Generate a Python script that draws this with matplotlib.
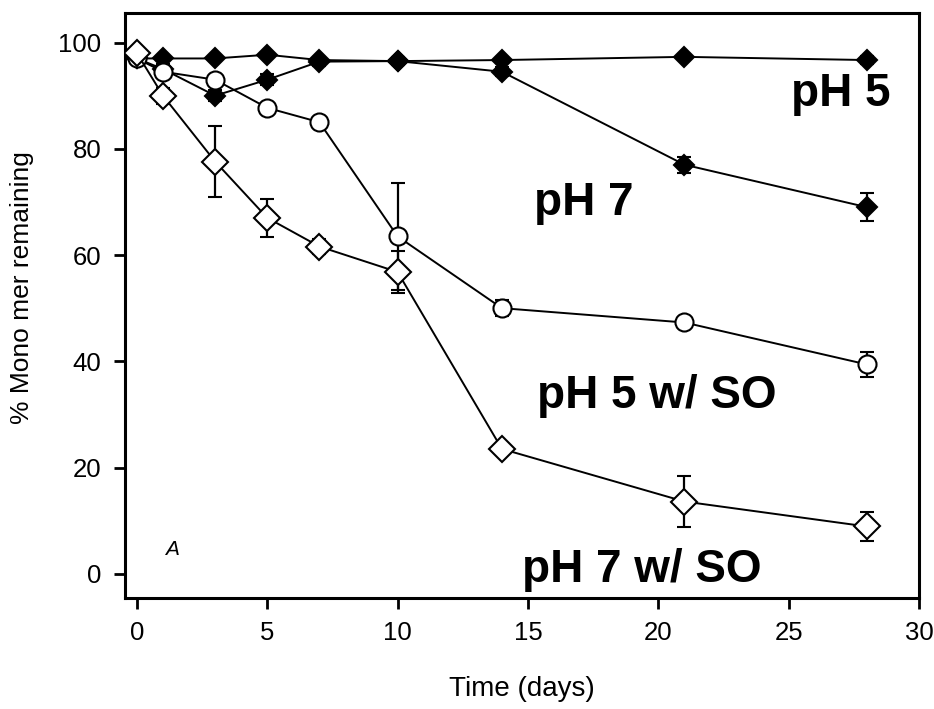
import matplotlib
matplotlib.use("Agg")
import matplotlib.pyplot as plt

# days sampled
days = [0, 1, 3, 5, 7, 10, 14, 21, 28]

# % monomer remaining
ph5 = [97.0, 97.0, 97.0, 97.7, 96.7, 96.5, 96.7, 97.3, 96.7]
ph5_err = [0, 0.5, 0.5, 0.5, 0.5, 0.5, 0.5, 0.5, 0.8]

ph7 = [97.0, 95.0, 90.0, 93.0, 96.4, 96.5, 94.5, 77.0, 69.0]
ph7_err = [0, 1.0, 1.0, 1.0, 0.8, 0.8, 0.8, 1.5, 2.6]

ph5_so = [97.0, 94.5, 93.0, 87.7, 85.0, 63.5, 50.0, 47.3, 39.4]
ph5_so_err = [0, 0.8, 0.8, 0.6, 0.6, 10.0, 1.5, 1.0, 2.4]

ph7_so = [98.0, 90.0, 77.6, 67.0, 61.6, 56.8, 23.5, 13.6, 8.9]
ph7_so_err = [0, 1.5, 6.6, 3.6, 1.5, 4.0, 1.0, 4.8, 2.7]

labels = ["pH 5", "pH 7", "pH 5 w/ SO", "pH 7 w/ SO"]
label_x = [26.98, 17.15, 19.94, 19.36]
label_y = [90.4, 69.8, 33.5, 0.75]

plain = ["Liberation Sans", "DejaVu Sans"]

fig = plt.figure(figsize=(9.34, 7.09), dpi=100)
ax = fig.add_axes([0.134, 0.157, 0.85, 0.825])

line_kw = dict(color="black", lw=1.4, capsize=5, elinewidth=1.6, capthick=1.6,
               markeredgecolor="black", markeredgewidth=1.5)

ax.errorbar(days, ph5, yerr=ph5_err, marker="D", ms=10, mfc="black", zorder=3, **line_kw)
ax.errorbar(days, ph7, yerr=ph7_err, marker="D", ms=10, mfc="black", zorder=3, **line_kw)
ax.errorbar(days, ph5_so, yerr=ph5_so_err, marker="o", ms=13, mfc="white", zorder=4, **line_kw)
ax.errorbar(days, ph7_so, yerr=ph7_so_err, marker="D", ms=13, mfc="white", zorder=5, **line_kw)

for txt, x, y in zip(labels, label_x, label_y):
    ax.text(x, y, txt, fontsize=33, fontweight="bold", family=plain,
            ha="center", va="center", zorder=6)

ax.text(1.35, 4.5, "A", fontsize=15, style="italic", family=plain, ha="center", va="center")

ax.set_xlim(-0.45, 29.93)
ax.set_ylim(-4.5, 105.6)
ax.set_xticks([0, 5, 10, 15, 20, 25, 30])
ax.set_yticks([0, 20, 40, 60, 80, 100])

for sp in ax.spines.values():
    sp.set_linewidth(2.2)

ax.tick_params(axis="both", direction="out", length=8, width=2, labelsize=18.5, pad=9)
ax.tick_params(top=False, right=False)
for lab in ax.get_xticklabels() + ax.get_yticklabels():
    lab.set_family(plain)

ax.set_xlabel("Time (days)", fontsize=20, family=plain)
ax.set_ylabel("% Mono mer remaining", fontsize=19, family=plain)
ax.xaxis.set_label_coords(0.5, -0.134)
ax.yaxis.set_label_coords(-0.115, 0.53)

fig.savefig("out.png", dpi=100)
